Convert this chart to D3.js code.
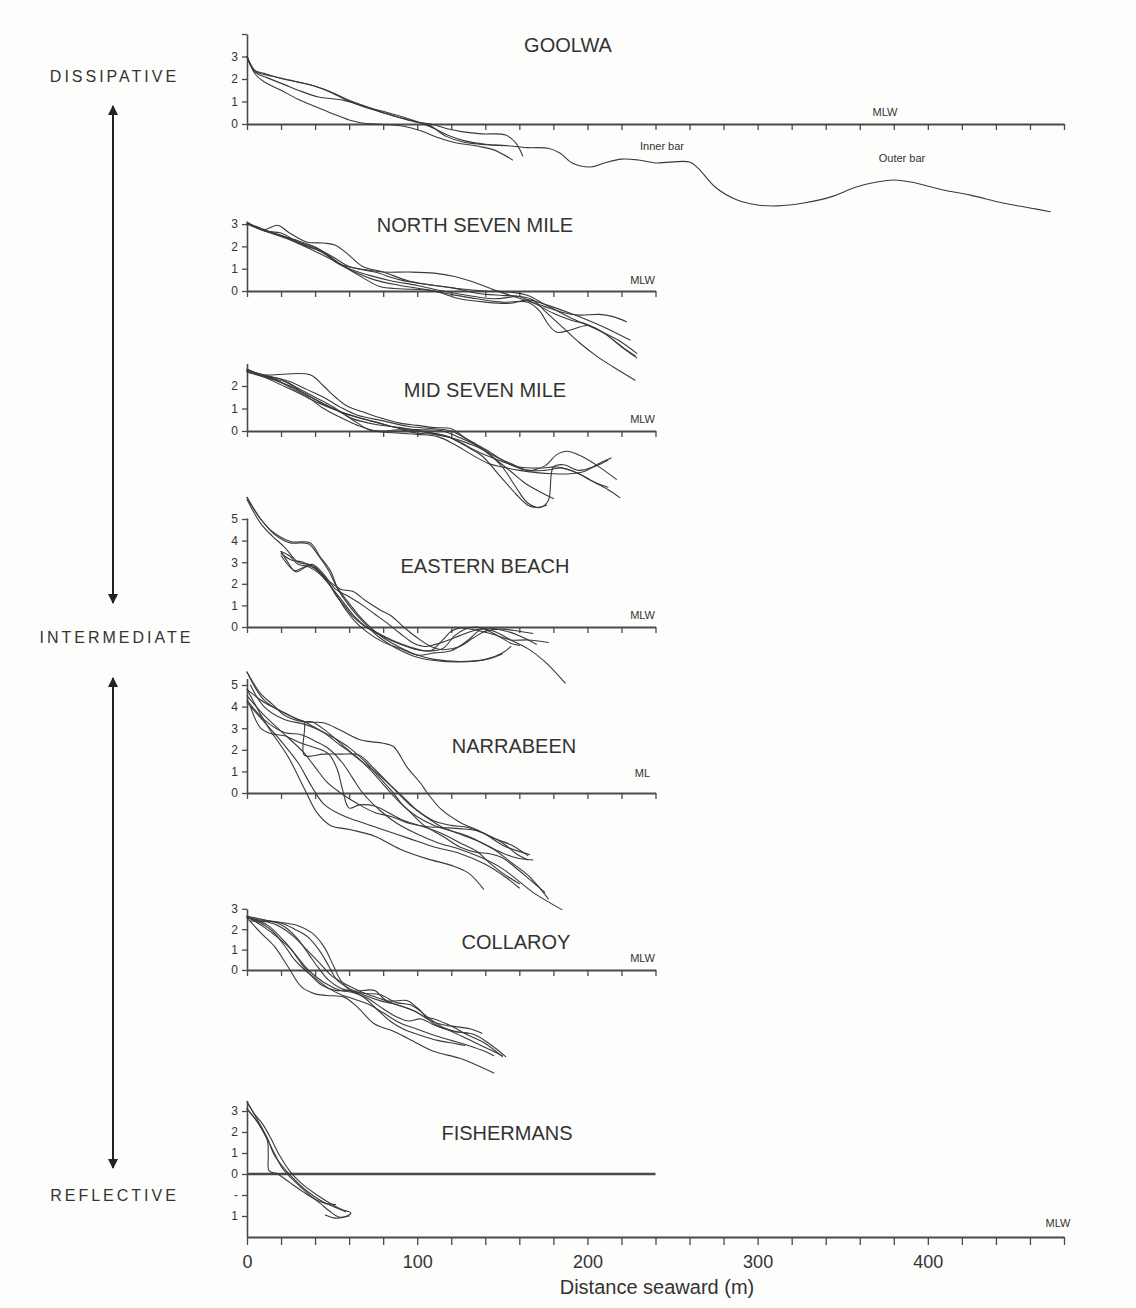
<!DOCTYPE html>
<html><head><meta charset="utf-8">
<script src="https://cdn.jsdelivr.net/npm/d3@7"></script>
<style>
body{margin:0;background:#fdfdfc}
svg{display:block}
text{font-family:"Liberation Sans",Arial,Helvetica,sans-serif;fill:#333}
</style>
</head><body><svg id="c" width="1136" height="1308"></svg>
<script>
// ---------------- DATA (distance seaward m, elevation m) ----------------
const panelNames = ["GOOLWA","NORTH SEVEN MILE","MID SEVEN MILE","EASTERN BEACH","NARRABEEN","COLLAROY","FISHERMANS"];
const datumLabels = ["MLW","MLW","MLW","MLW","ML","MLW","MLW"];
const stateLabels = ["DISSIPATIVE","INTERMEDIATE","REFLECTIVE"];
const xTickValues = [0,20,40,60,80,100,120,140,160,180,200,220,240,260,280,300,320,340,360,380,400,420,440,460,480];
const xTickLabels = [0,100,200,300,400];
const xAxisTitle = "Distance seaward (m)";
const barLabels = ["Inner bar","Outer bar"];

const goolwaProfiles = [
  [[0,3.0],[5,2.35],[15,2.12],[28,1.9],[40,1.68],[48,1.45],[58,1.08],[68,0.78],[78,0.55],[88,0.32],[99,0.1],[107,-0.05],[117,-0.55],[127,-0.8],[140,-0.92],[150,-0.95],[158,-1.0],[165,-1.05],[177,-1.08],[184,-1.3],[191,-1.73],[202,-1.91],[210,-1.73],[220,-1.56],[230,-1.6],[240,-1.73],[260,-1.69],[265,-1.96],[275,-2.8],[288,-3.38],[300,-3.6],[312,-3.64],[327,-3.51],[343,-3.24],[358,-2.8],[370,-2.58],[380,-2.49],[390,-2.58],[409,-2.93],[425,-3.16],[444,-3.51],[460,-3.73],[472,-3.9]],
  [[0,3.0],[4,2.4],[10,2.25],[20,2.02],[30,1.86],[40,1.68],[50,1.4],[60,1.05],[70,0.78],[80,0.5],[90,0.28],[100,0.08],[108,0.0],[117,-0.2],[127,-0.35],[138,-0.44],[152,-0.49],[158,-0.85],[162,-1.42]],
  [[0,3.0],[5,2.2],[10,1.88],[20,1.5],[30,1.1],[40,0.78],[50,0.47],[60,0.18],[70,0.02],[80,-0.02],[92,-0.1],[102,-0.3],[112,-0.6],[122,-0.82],[135,-0.98],[145,-1.15],[156,-1.6]],
  [[0,3.0],[5,2.3],[12,2.05],[22,1.75],[32,1.45],[42,1.2],[50,1.12],[57,1.05],[65,0.88],[73,0.7],[83,0.5],[93,0.28],[102,0.05],[110,-0.2],[118,-0.5],[128,-0.75],[140,-0.9],[150,-0.96]]
];
const northSevenMileProfiles = [
  [[0,3.05],[10,2.7],[20,2.6],[30,2.2],[40,1.95],[50,1.55],[60,1.1],[70,0.95],[80,0.85],[95,0.85],[110,0.8],[122,0.65],[135,0.35],[145,0.05],[155,-0.2],[165,-0.45],[175,-0.7],[185,-0.95],[195,-1.08],[207,-1.05],[215,-1.15],[223,-1.38]],
  [[0,3.1],[10,2.75],[18,2.95],[25,2.6],[35,2.2],[45,2.15],[52,2.05],[60,1.6],[68,1.1],[80,0.85],[95,0.45],[110,0.25],[125,0.1],[140,0.0],[155,-0.05],[165,-0.2],[175,-0.6],[190,-1.2],[205,-1.7],[218,-2.2],[229,-2.8]],
  [[0,3.05],[10,2.7],[20,2.5],[30,2.15],[40,1.9],[50,1.45],[58,1.05],[68,0.6],[78,0.2],[90,0.1],[105,0.05],[120,-0.15],[135,-0.35],[150,-0.5],[165,-0.5],[172,-0.9],[177,-1.5],[182,-1.85],[190,-1.75],[200,-1.55],[210,-1.9],[220,-2.5],[229,-3.0]],
  [[0,3.05],[12,2.7],[25,2.35],[35,2.0],[45,1.75],[55,1.2],[65,1.0],[75,0.85],[90,0.5],[105,0.3],[120,0.15],[135,-0.1],[150,-0.2],[160,-0.25],[170,-0.6],[180,-1.0],[190,-1.3],[200,-1.5],[210,-1.9],[222,-2.6],[228,-2.9]],
  [[0,3.0],[12,2.65],[25,2.3],[38,1.85],[50,1.4],[60,1.0],[72,0.7],[85,0.45],[100,0.25],[115,0.0],[130,-0.2],[145,-0.35],[160,-0.25],[168,-0.4],[175,-0.9],[185,-1.6],[195,-2.3],[205,-2.9],[215,-3.4],[228,-4.0]],
  [[0,3.0],[15,2.6],[30,2.25],[42,1.9],[52,1.3],[62,0.9],[75,0.5],[90,0.25],[110,0.0],[125,-0.35],[140,-0.5],[155,-0.55],[165,-0.4],[175,-0.6],[190,-1.0],[200,-1.3],[212,-1.7],[225,-2.2]]
];
const midSevenMileProfiles = [
  [[0,2.7],[10,2.5],[37,2.5],[45,2.0],[52,1.5],[59,1.1],[70,0.8],[80,0.55],[90,0.35],[100,0.25],[110,0.15],[120,0.1],[128,-0.3],[135,-0.6],[142,-0.9],[150,-1.3],[158,-1.6],[165,-1.75],[175,-1.55],[182,-1.05],[188,-0.9],[196,-1.1],[206,-1.55],[217,-2.15]],
  [[0,2.75],[10,2.45],[20,2.3],[30,1.9],[40,1.5],[50,1.1],[58,0.7],[65,0.35],[72,0.05],[80,0.0],[90,0.05],[100,-0.1],[110,-0.15],[120,-0.3],[130,-0.55],[140,-0.9],[150,-1.6],[158,-2.5],[165,-3.2],[172,-3.4],[177,-3.1],[180,-1.6],[186,-1.5],[195,-1.75],[205,-1.55],[212,-1.3]],
  [[0,2.7],[12,2.35],[22,2.2],[32,1.75],[45,1.2],[55,0.85],[65,0.6],[78,0.35],[90,0.1],[105,-0.05],[118,-0.25],[128,-0.65],[138,-1.1],[148,-1.95],[158,-2.8],[165,-3.3],[170,-3.4],[176,-3.3]],
  [[0,2.65],[15,2.35],[25,1.95],[35,1.55],[45,1.0],[55,0.6],[65,0.25],[75,0.0],[90,-0.1],[100,-0.15],[112,-0.25],[122,-0.6],[132,-1.05],[142,-1.45],[150,-1.6],[160,-1.75],[170,-1.85],[180,-1.9],[190,-1.9],[198,-1.8],[208,-1.4],[214,-1.2]],
  [[0,2.7],[12,2.45],[25,2.2],[35,1.85],[45,1.5],[55,1.05],[65,0.7],[80,0.45],[95,0.2],[110,0.1],[120,0.0],[132,-0.5],[145,-1.1],[155,-1.45],[165,-1.75],[175,-1.75],[185,-1.65],[195,-1.9],[205,-2.3],[212,-2.5]],
  [[0,2.6],[10,2.4],[20,2.05],[30,1.7],[42,1.25],[55,0.85],[68,0.55],[80,0.3],[92,0.1],[105,0.05],[115,0.0],[125,-0.3],[135,-0.65],[145,-1.2],[155,-1.8],[163,-2.3],[172,-2.7],[180,-3.0]],
  [[0,2.7],[15,2.3],[28,1.9],[40,1.4],[52,0.95],[62,0.55],[75,0.3],[90,0.15],[105,-0.05],[120,-0.3],[135,-0.9],[148,-1.3],[160,-1.6],[172,-1.65],[182,-1.6],[192,-1.8],[202,-2.2],[212,-2.6],[219,-2.96]]
];
const easternBeachProfiles = [
  [[0,6.0],[8,5.0],[16,4.35],[26,3.95],[37,3.9],[43,3.25],[49,2.6],[53,1.85],[59,1.2],[65,0.6],[71,0.1],[80,-0.5],[90,-0.95],[100,-1.3],[110,-1.5],[125,-1.6],[140,-1.5],[150,-1.2],[155,-0.9]],
  [[0,5.9],[8,4.8],[15,4.2],[22,3.7],[30,3.0],[38,2.85],[45,2.3],[52,1.6],[58,1.0],[63,0.5],[70,0.0],[80,-0.45],[90,-0.8],[100,-1.05],[108,-1.1],[115,-0.6],[120,-0.2],[125,-0.05],[135,-0.15],[145,-0.35],[155,-0.6],[165,-0.6],[177,-0.72]],
  [[20,3.5],[24,3.0],[28,2.6],[35,2.8],[42,2.5],[48,2.0],[54,1.3],[58,0.8],[63,0.3],[70,-0.2],[80,-0.7],[90,-1.0],[100,-1.3],[110,-1.2],[120,-1.1],[130,-0.6],[138,-0.1],[145,-0.2],[155,-0.6],[165,-1.0],[175,-1.6],[187,-2.6]],
  [[20,3.4],[26,3.1],[33,3.0],[40,2.7],[47,2.2],[55,1.75],[62,1.65],[70,1.2],[78,0.8],[85,0.5],[92,0.0],[100,-0.5],[108,-0.9],[115,-1.05],[125,-0.9],[133,-0.5],[140,-0.2],[150,-0.1],[160,-0.2],[168,-0.3]],
  [[20,3.5],[25,3.3],[30,2.9],[40,2.75],[48,2.05],[52,1.5],[57,1.0],[62,0.5],[68,0.1],[75,-0.2],[85,-0.6],[95,-0.9],[105,-1.1],[115,-1.0],[122,-0.4],[128,-0.1],[135,0.0],[145,-0.3],[155,-0.75],[160,-0.85]],
  [[20,3.3],[25,2.8],[29,2.55],[38,2.9],[45,2.45],[52,1.75],[60,1.4],[68,1.0],[75,0.6],[82,0.2],[90,-0.3],[98,-0.75],[105,-0.9],[115,-0.7],[125,-0.4],[132,-0.2],[140,-0.05],[150,-0.15],[160,-0.4],[170,-0.8]],
  [[0,6.0],[8,5.0],[16,4.3],[25,3.9],[36,3.85],[42,3.3],[48,2.6],[53,1.8],[58,1.2],[64,0.6],[70,0.1],[78,-0.5],[88,-1.0],[98,-1.35],[110,-1.55],[125,-1.62],[140,-1.52],[150,-1.25]]
];
const narrabeenProfiles = [
  [[0,5.6],[10,4.3],[22,3.7],[34,3.3],[45,3.25],[55,2.9],[67,2.45],[80,2.3],[86,2.15],[94,1.2],[102,0.45],[106,0.0],[114,-0.75],[125,-1.35],[139,-1.85],[151,-2.45],[166,-2.85]],
  [[0,5.6],[8,4.6],[15,4.1],[22,3.6],[33,3.3],[38,3.3],[46,2.9],[55,2.3],[65,1.6],[75,1.0],[85,0.3],[92,-0.2],[100,-0.8],[110,-1.3],[120,-1.5],[130,-1.6],[140,-1.9],[150,-2.3],[158,-2.8],[165,-3.1]],
  [[0,4.8],[10,4.2],[20,3.8],[30,3.4],[33.5,3.3],[33.7,1.75],[45,1.8],[55,1.8],[66,1.75],[75,1.1],[85,0.3],[95,-0.5],[105,-1.1],[115,-1.6],[125,-1.9],[135,-2.2],[145,-2.6],[155,-3.2],[165,-3.8],[172,-4.4],[177,-4.9]],
  [[2,4.0],[8,3.0],[14,2.75],[22,2.65],[32,2.3],[40,2.1],[48,1.8],[53,1.1],[56,0.2],[60,-0.7],[66,-0.55],[75,-0.6],[90,-1.2],[105,-1.6],[115,-1.9],[125,-2.3],[135,-2.7],[142,-3.2],[150,-3.7],[160,-4.2]],
  [[0,4.5],[10,3.6],[18,3.0],[25,2.5],[33,1.9],[40,1.2],[47,0.5],[55,0.0],[65,-0.5],[75,-0.9],[85,-1.1],[95,-1.4],[105,-1.55],[115,-1.6],[125,-1.65],[135,-1.75],[145,-2.1],[155,-2.4],[165,-2.9]],
  [[0,4.8],[12,3.1],[24,1.7],[34,0.15],[41,-0.9],[49,-1.5],[61,-1.7],[75,-2.0],[90,-2.6],[106,-3.05],[120,-3.35],[130,-3.7],[139,-4.45]],
  [[0,4.2],[10,3.3],[20,2.4],[30,1.4],[38,0.3],[45,-0.5],[55,-1.0],[65,-1.3],[80,-1.7],[95,-2.1],[110,-2.5],[125,-2.8],[140,-3.3],[152,-3.9],[160,-4.4]],
  [[0,4.3],[10,3.4],[22,2.8],[32,2.7],[40,2.4],[48,2.05],[56,1.4],[62,0.7],[68,0.0],[78,-0.8],[88,-1.4],[100,-1.9],[112,-2.3],[125,-2.6],[138,-3.0],[150,-3.5],[160,-4.1],[168,-4.6],[185,-5.4]],
  [[2,5.0],[10,4.0],[22,3.4],[33,3.2],[40,3.0],[50,2.6],[60,2.1],[70,1.4],[78,0.7],[85,0.1],[92,-0.6],[100,-1.1],[110,-1.5],[120,-1.75],[130,-2.0],[140,-2.4],[148,-2.7],[158,-3.0],[168,-3.1]],
  [[33.7,3.3],[45,2.8],[55,2.2],[64,1.7],[72,1.1],[80,0.4],[88,-0.3],[96,-0.9],[104,-1.5],[115,-2.0],[125,-2.5],[135,-2.75],[142,-2.8],[150,-3.0],[160,-3.6],[166,-4.0],[175,-4.6]]
];
const collaroyProfiles = [
  [[0,2.65],[12,2.42],[20,2.33],[30,2.17],[38,1.83],[45,1.17],[51,0.17],[55,-0.5],[61,-1.0],[75,-1.0],[82,-1.5],[94,-1.5],[100,-1.85],[110,-2.65],[121,-3.0],[133,-3.15],[143,-3.65],[152,-4.25]],
  [[0,2.6],[10,2.4],[20,2.3],[28,2.0],[36,1.6],[43,0.9],[48,0.2],[53,-0.5],[60,-0.9],[68,-1.2],[78,-1.5],[88,-1.7],[98,-2.0],[105,-2.3],[110,-2.4],[120,-2.75],[130,-3.2],[140,-3.6],[150,-4.25]],
  [[0,2.6],[8,2.3],[15,1.9],[22,1.2],[28,0.5],[34,0.0],[40,-0.4],[48,-0.9],[55,-1.2],[62,-1.4],[72,-1.7],[80,-2.1],[90,-2.6],[100,-2.9],[110,-3.2],[120,-3.45],[130,-3.7],[140,-4.0],[145,-4.2]],
  [[0,2.55],[8,1.83],[16,1.17],[24,0.17],[32,-0.83],[40,-1.17],[47,-1.25],[57,-1.33],[65,-1.83],[75,-2.65],[86,-3.0],[94,-3.33],[110,-4.0],[125,-4.33],[145,-5.05]],
  [[0,2.6],[12,2.2],[22,1.4],[30,0.6],[36,0.0],[45,-0.6],[55,-1.0],[62,-1.1],[70,-1.35],[80,-1.9],[88,-2.3],[95,-2.5],[102,-2.4],[110,-2.7],[120,-3.0],[130,-3.4],[140,-3.8],[150,-4.2]],
  [[2,2.4],[12,2.35],[20,2.1],[28,1.6],[35,1.0],[42,0.4],[50,-0.3],[58,-0.7],[68,-1.1],[78,-1.4],[88,-1.7],[98,-2.0],[108,-2.5],[116,-2.7],[125,-2.8],[132,-2.9],[138,-3.1]],
  [[0,2.6],[10,2.1],[18,1.6],[26,1.0],[32,0.3],[38,-0.3],[44,-0.75],[52,-1.0],[60,-1.0],[68,-1.3],[76,-1.9],[84,-2.5],[92,-2.9],[102,-3.2],[112,-3.45],[122,-3.6],[128,-3.7]],
  [[10,2.45],[18,2.3],[24,2.0],[30,1.5],[36,0.8],[42,0.1],[48,-0.5],[55,-0.9],[62,-1.05],[70,-1.15],[78,-1.2],[88,-1.6],[96,-1.7],[100,-1.9],[106,-2.3],[115,-2.8],[122,-3.0],[130,-3.1]]
];
const fishermansProfiles = [
  [[0,3.45],[4,2.9],[9,2.4],[14,1.7],[19,0.9],[25,0.15],[32,-0.45],[42,-1.05],[50,-1.45],[56,-1.7],[61,-1.85],[58,-2.02],[52,-2.1],[46,-1.95]],
  [[0,3.1],[5,2.6],[9,2.1],[12,1.6],[12.5,0.9],[13,0.15],[18,0.0],[25,-0.4],[33,-0.85],[40,-1.2],[46,-1.4],[52,-1.45]],
  [[0,3.1],[6,2.5],[11,1.8],[16,1.0],[21,0.25],[28,-0.35],[36,-0.95],[43,-1.4],[49,-1.8],[54,-2.05],[60,-2.0]],
  [[1,3.3],[6,2.6],[12,1.7],[16,0.9],[20,0.45],[27,-0.2],[35,-0.8],[44,-1.3],[52,-1.6],[58,-1.8]]
];
const profileSets = [goolwaProfiles, northSevenMileProfiles, midSevenMileProfiles, easternBeachProfiles, narrabeenProfiles, collaroyProfiles, fishermansProfiles];

const yTickValues = [[0,1,2,3,4],[0,1,2,3],[0,1,2],[0,1,2,3,4,5],[0,1,2,3,4,5],[0,1,2,3],[3,2,1,0,-1,-2]];
const yTickLabels = [["0","1","2","3",""],["0","1","2","3"],["0","1","2"],["0","1","2","3","4","5"],["0","1","2","3","4","5"],["0","1","2","3"],["3","2","1","0","-","1"]];
const yAxisRange = [[0,4],[0,3.05],[0,3.0],[0,5.05],[0,5.3],[0,3.0],[-3,3.5]];
const xAxisMax = [480,240,240,240,240,240,240];

// ---------------- LAYOUT ----------------
const W = 1136, H = 1308;
const svg = d3.select("#c");
svg.append("rect").attr("width",W).attr("height",H).attr("fill","#fdfdfc");

const x = d3.scaleLinear().domain([0,480]).range([247,1064]);

const layout = [
  {y0:124, k:22.5, tx:568, ty:52, dx:885, dy:116, dAnchor:"middle"},
  {y0:291, k:22.3, tx:475, ty:232, dx:655, dy:284, dAnchor:"end"},
  {y0:431, k:22.5, tx:485, ty:397, dx:655, dy:423, dAnchor:"end"},
  {y0:627, k:21.6, tx:485, ty:573, dx:655, dy:619, dAnchor:"end"},
  {y0:793, k:21.6, tx:514, ty:753, dx:650, dy:777, dAnchor:"end"},
  {y0:970, k:20.4, tx:516, ty:949, dx:655, dy:962, dAnchor:"end"},
  {y0:1174, k:21.0, tx:507, ty:1140, dx:1058, dy:1227, dAnchor:"middle"}
];

const lineColor = "#3a3a3a";
const axisColor = "#4a4a4a";

function styleAxis(g, w){
  g.selectAll(".domain").attr("stroke",axisColor).attr("stroke-width",w);
  g.selectAll(".tick line").attr("stroke",axisColor).attr("stroke-width",1.3);
}

panelNames.forEach((name,i)=>{
  const L = layout[i];
  const yr = yAxisRange[i];
  const y = d3.scaleLinear().domain(yr).range([L.y0 - yr[0]*L.k, L.y0 - yr[1]*L.k]);
  const g = svg.append("g");

  // y axis
  const labs = yTickLabels[i];
  const ya = d3.axisLeft(y).tickValues(yTickValues[i]).tickSize(5).tickSizeOuter(0).tickPadding(4)
    .tickFormat((d,j)=>labs[j]);
  const yg = g.append("g").attr("transform",`translate(${x(0)},0)`).call(ya);
  styleAxis(yg,1.6);
  yg.selectAll("text").attr("font-size",12).attr("fill","#333").style("font-family",'"Liberation Sans",Arial,sans-serif');

  // x axis for panel (0-line)
  const xp = d3.scaleLinear().domain([0,xAxisMax[i]]).range([x(0), x(xAxisMax[i])]);
  if (i < 6) {
    const xa = d3.axisBottom(xp).tickValues(xTickValues.filter(v=>v<=xAxisMax[i])).tickSize(6).tickSizeOuter(0).tickFormat("");
    const xg = g.append("g").attr("transform",`translate(0,${y(0)})`).call(xa);
    styleAxis(xg,1.8);
  } else {
    g.append("line").attr("x1",xp(0)).attr("x2",xp(240)).attr("y1",y(0)).attr("y2",y(0))
      .attr("stroke",axisColor).attr("stroke-width",2.4);
  }

  // profiles
  const line = d3.line().x(d=>x(d[0])).y(d=>y(d[1])).curve(d3.curveCatmullRom.alpha(0.5));
  g.selectAll("path.p").data(profileSets[i]).enter().append("path").attr("class","p")
    .attr("d",line).attr("fill","none").attr("stroke",lineColor).attr("stroke-width",1.1)
    .attr("stroke-linejoin","round").attr("stroke-linecap","round");

  // title
  g.append("text").attr("x",L.tx).attr("y",L.ty).attr("text-anchor","middle")
    .attr("font-size",20).text(name);
  // datum label
  g.append("text").attr("x",L.dx).attr("y",L.dy).attr("text-anchor",L.dAnchor)
    .attr("font-size",11).text(datumLabels[i]);

  if (i===0){
    g.append("text").attr("x",662).attr("y",150).attr("text-anchor","middle").attr("font-size",11).text(barLabels[0]);
    g.append("text").attr("x",902).attr("y",162).attr("text-anchor","middle").attr("font-size",11).text(barLabels[1]);
  }
});

// bottom shared x axis (at -3 m of Fishermans panel)
const fy = layout[6].y0 + 3*layout[6].k;
const xb = d3.axisBottom(x).tickValues(xTickValues).tickSize(8).tickSizeOuter(0).tickPadding(10)
  .tickFormat(d => xTickLabels.includes(d) ? d : "");
const xbg = svg.append("g").attr("transform",`translate(0,${fy})`).call(xb);
styleAxis(xbg,1.8);
xbg.selectAll("text").attr("font-size",18).attr("fill","#333").style("font-family",'"Liberation Sans",Arial,sans-serif');
svg.append("text").attr("x",657).attr("y",1294).attr("text-anchor","middle").attr("font-size",20).text(xAxisTitle);

// left classification labels and arrows
const defs = svg.append("defs");
defs.append("marker").attr("id","ah").attr("viewBox","0 0 10 10").attr("refX",9).attr("refY",5)
  .attr("markerWidth",5).attr("markerHeight",5).attr("orient","auto-start-reverse")
  .append("path").attr("d","M0,0L10,5L0,10Z").attr("fill","#222");

const stateY = [82, 643, 1201];
const stateX = [113, 115, 113];
stateLabels.forEach((s,j)=>{
  svg.append("text").attr("x",stateX[j]+1.5).attr("y",stateY[j]).attr("text-anchor","middle")
    .attr("font-size",16).attr("letter-spacing",3).attr("fill","#3a3a3a").text(s);
});
const arrows = [[106,603],[678,1168]];
arrows.forEach(a=>{
  svg.append("line").attr("x1",113).attr("x2",113).attr("y1",a[0]).attr("y2",a[1])
    .attr("stroke","#222").attr("stroke-width",2)
    .attr("marker-start","url(#ah)").attr("marker-end","url(#ah)");
});
</script></body></html>
